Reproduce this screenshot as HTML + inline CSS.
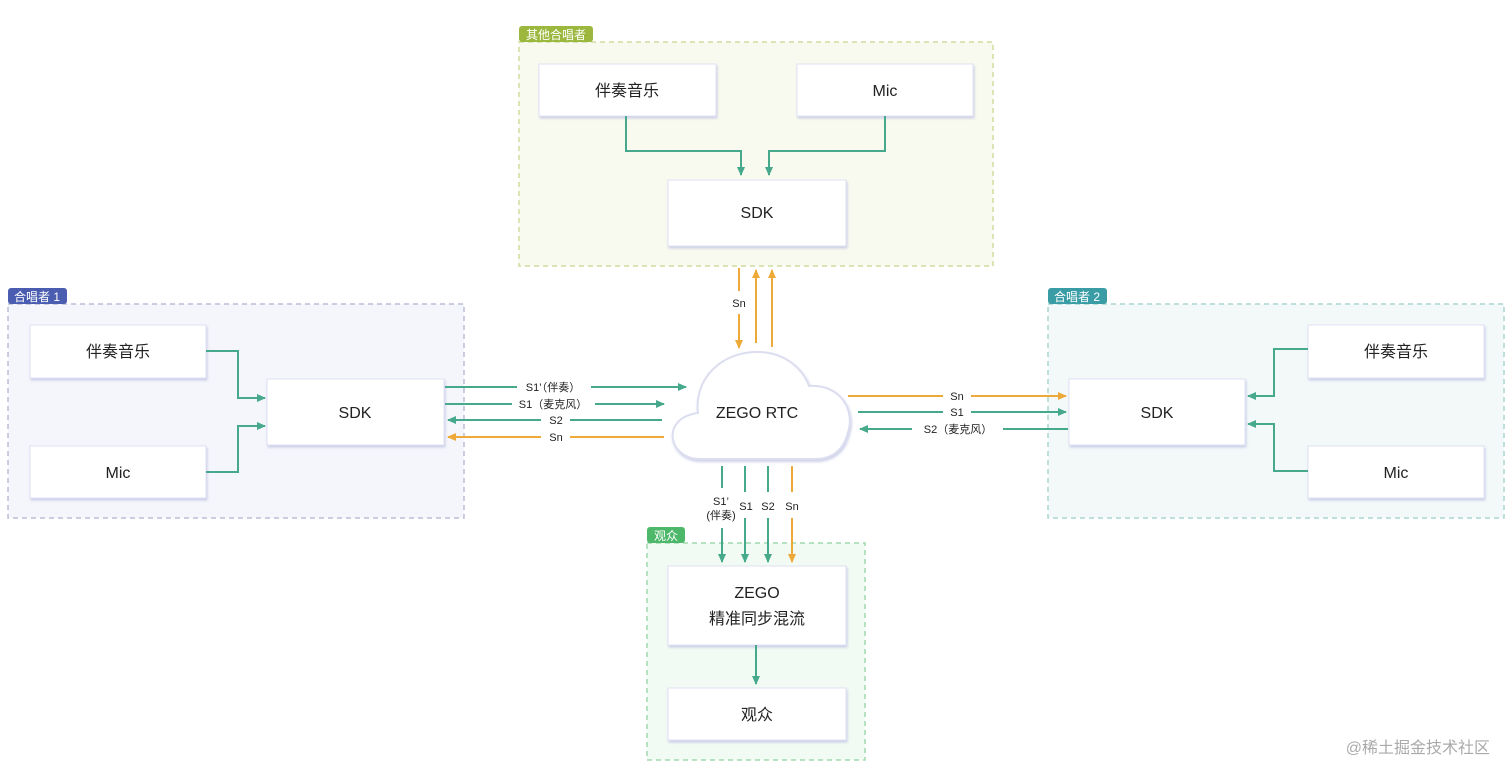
<!DOCTYPE html>
<html><head><meta charset="utf-8"><style>
html,body{margin:0;padding:0;background:#fff;}
svg{display:block;}
text{font-family:"Liberation Sans","Noto Sans CJK SC",sans-serif;}
</style></head><body>
<svg width="1512" height="780" viewBox="0 0 1512 780" xmlns="http://www.w3.org/2000/svg">
<defs>
<marker id="ag" markerWidth="10" markerHeight="10" refX="8" refY="5" orient="auto" markerUnits="userSpaceOnUse"><path d="M0,1 L9,5 L0,9 Z" fill="#46a98c"/></marker>
<marker id="ao" markerWidth="10" markerHeight="10" refX="8" refY="5" orient="auto" markerUnits="userSpaceOnUse"><path d="M0,1 L9,5 L0,9 Z" fill="#eeaa38"/></marker>
<filter id="sh" x="-10%" y="-10%" width="125%" height="130%"><feDropShadow dx="1" dy="2" stdDeviation="1.2" flood-color="#b8bce0" flood-opacity="0.7"/></filter>
</defs>

<!-- groups -->
<rect x="519" y="42" width="474" height="224" fill="#f8faef" stroke="#cddc9e" stroke-width="1.5" stroke-dasharray="5,4"/>
<rect x="519" y="26" width="74" height="16" rx="3" fill="#9cb73d"/>
<text x="556" y="39" font-size="12" fill="#fff" text-anchor="middle">其他合唱者</text>

<rect x="8" y="304" width="456" height="214" fill="#f5f6fb" stroke="#babed6" stroke-width="1.5" stroke-dasharray="5,4"/>
<rect x="8" y="288" width="59" height="16" rx="3" fill="#4a5db0"/>
<text x="37" y="301" font-size="12" fill="#fff" text-anchor="middle">合唱者 1</text>

<rect x="1048" y="304" width="456" height="214" fill="#f3f9f9" stroke="#abd6d2" stroke-width="1.5" stroke-dasharray="5,4"/>
<rect x="1048" y="288" width="59" height="16" rx="3" fill="#3a9da6"/>
<text x="1077" y="301" font-size="12" fill="#fff" text-anchor="middle">合唱者 2</text>

<rect x="647" y="543" width="218" height="217" fill="#f2faf4" stroke="#a0d9b0" stroke-width="1.5" stroke-dasharray="5,4"/>
<rect x="647" y="527" width="38" height="16" rx="3" fill="#4db76a"/>
<text x="666" y="540" font-size="12" fill="#fff" text-anchor="middle">观众</text>

<!-- boxes -->
<g fill="#fff" stroke="#dfe1f3" stroke-width="1" filter="url(#sh)">
<rect x="539" y="64" width="177" height="52"/>
<rect x="797" y="64" width="176" height="52"/>
<rect x="668" y="180" width="178" height="66"/>
<rect x="30" y="325" width="176" height="53"/>
<rect x="30" y="446" width="176" height="52"/>
<rect x="267" y="379" width="177" height="66"/>
<rect x="1069" y="379" width="176" height="66"/>
<rect x="1308" y="325" width="176" height="53"/>
<rect x="1308" y="446" width="176" height="52"/>
<rect x="668" y="566" width="178" height="79"/>
<rect x="668" y="688" width="178" height="52"/>
</g>
<g font-size="16" fill="#222" text-anchor="middle">
<text x="627" y="96">伴奏音乐</text>
<text x="885" y="96">Mic</text>
<text x="757" y="218">SDK</text>
<text x="118" y="357">伴奏音乐</text>
<text x="118" y="478">Mic</text>
<text x="355" y="418">SDK</text>
<text x="1157" y="418">SDK</text>
<text x="1396" y="357">伴奏音乐</text>
<text x="1396" y="478">Mic</text>
<text x="757" y="598">ZEGO</text>
<text x="757" y="624">精准同步混流</text>
<text x="757" y="720">观众</text>
</g>

<!-- cloud -->
<path d="M700,459 C668,459 660,418 698,413 C694,378 722,352 757,352 C788,352 804,372 809,386 C842,384 855,412 848,432 C844,450 832,459 815,459 Z" fill="#fff" stroke="#dcdef0" stroke-width="2" filter="url(#sh)"/>
<text x="757" y="418" font-size="16" fill="#222" text-anchor="middle">ZEGO RTC</text>

<!-- internal connectors -->
<g fill="none" stroke="#46a98c" stroke-width="2">
<path d="M626,116 V151 H741 V175" marker-end="url(#ag)"/>
<path d="M885,116 V151 H769 V175" marker-end="url(#ag)"/>
<path d="M206,351 H238 V398 H265" marker-end="url(#ag)"/>
<path d="M206,472 H238 V426 H265" marker-end="url(#ag)"/>
<path d="M1308,349 H1274 V396 H1248" marker-end="url(#ag)"/>
<path d="M1308,471 H1274 V424 H1248" marker-end="url(#ag)"/>
<path d="M756,645 V684" marker-end="url(#ag)"/>
</g>

<!-- top arrows -->
<g fill="none" stroke="#eeaa38" stroke-width="2">
<path d="M739,268 V291"/><path d="M739,314 V348" marker-end="url(#ao)"/>
<path d="M756,343 V270" marker-end="url(#ao)"/>
<path d="M772,347 V270" marker-end="url(#ao)"/>
</g>
<text x="739" y="307" font-size="11" fill="#222" text-anchor="middle">Sn</text>

<!-- left arrows -->
<g fill="none" stroke-width="2">
<path d="M445,387 H517 M591,387 H686" stroke="#46a98c" marker-end="url(#ag)"/>
<path d="M445,404 H512 M595,404 H664" stroke="#46a98c" marker-end="url(#ag)"/>
<path d="M662,420 H570 M541,420 H448" stroke="#46a98c" marker-end="url(#ag)"/>
<path d="M664,437 H570 M541,437 H448" stroke="#eeaa38" marker-end="url(#ao)"/>
</g>
<g font-size="11" fill="#222" text-anchor="middle">
<text x="553" y="391">S1’（伴奏）</text>
<text x="553" y="408">S1（麦克风）</text>
<text x="556" y="424">S2</text>
<text x="556" y="441">Sn</text>
</g>

<!-- right arrows -->
<g fill="none" stroke-width="2">
<path d="M848,396 H943 M971,396 H1066" stroke="#eeaa38" marker-end="url(#ao)"/>
<path d="M858,412 H943 M971,412 H1066" stroke="#46a98c" marker-end="url(#ag)"/>
<path d="M1068,429 H1003 M912,429 H860" stroke="#46a98c" marker-end="url(#ag)"/>
</g>
<g font-size="11" fill="#222" text-anchor="middle">
<text x="957" y="400">Sn</text>
<text x="957" y="416">S1</text>
<text x="958" y="433">S2（麦克风）</text>
</g>

<!-- bottom arrows -->
<g fill="none" stroke-width="2">
<path d="M722,466 V488 M722,528 V562" stroke="#46a98c" marker-end="url(#ag)"/>
<path d="M745,466 V492 M745,518 V562" stroke="#46a98c" marker-end="url(#ag)"/>
<path d="M768,466 V492 M768,518 V562" stroke="#46a98c" marker-end="url(#ag)"/>
<path d="M792,466 V492 M792,518 V562" stroke="#eeaa38" marker-end="url(#ao)"/>
</g>
<g font-size="11" fill="#222" text-anchor="middle">
<text x="721" y="505">S1’</text>
<text x="721" y="519">(伴奏)</text>
<text x="746" y="510">S1</text>
<text x="768" y="510">S2</text>
<text x="792" y="510">Sn</text>
</g>

<text x="1490" y="753" font-size="16" fill="#aaa" text-anchor="end">@稀土掘金技术社区</text>
</svg>
</body></html>
